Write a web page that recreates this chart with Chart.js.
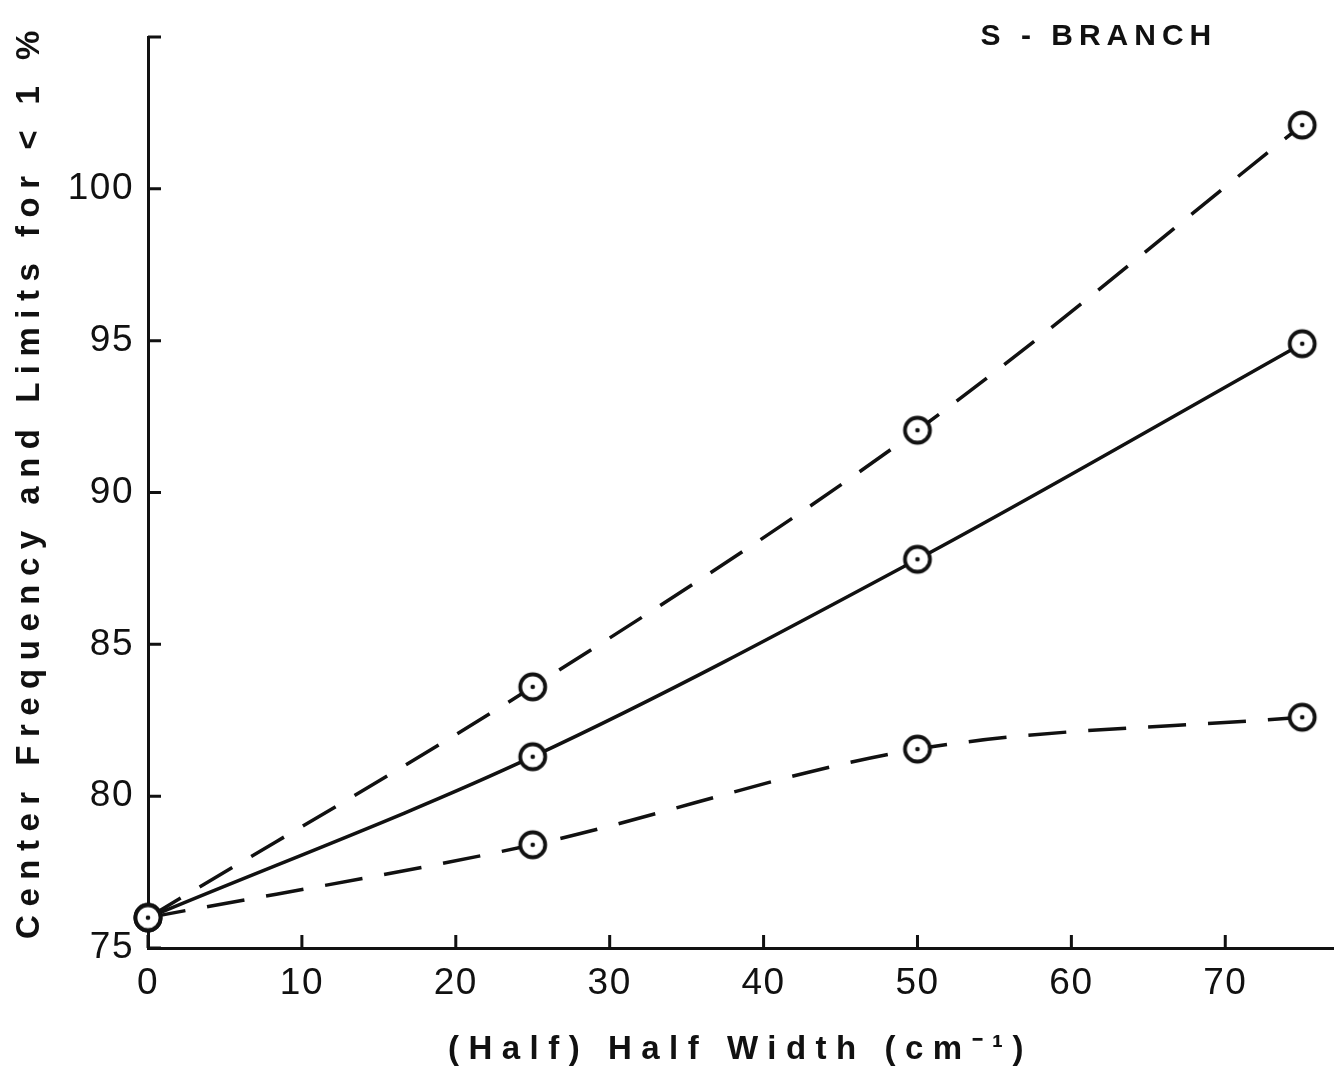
<!DOCTYPE html>
<html>
<head>
<meta charset="utf-8">
<script src="https://cdn.jsdelivr.net/npm/chart.js@4.4.0/dist/chart.umd.min.js"></script>
<style>
  html, body { margin: 0; padding: 0; background: #fff; }
  #c { display: block; }
</style>
</head>
<body>
<canvas id="c" width="1342" height="1077"></canvas>
<script>
// ---- data ----
const halfWidths = [0, 25, 50, 75];
const centerFreq = [76.0, 81.3, 87.8, 94.9];
const upperLimit = [76.0, 83.6, 92.05, 102.1];
const lowerLimit = [76.0, 78.4, 81.55, 82.6];
const xTickValues = [0, 10, 20, 30, 40, 50, 60, 70];
const yTickValues = [75, 80, 85, 90, 95, 100];
const yMarkOnly = [105];
const xTitle = '(Half) Half Width (cm\u207B\u00B9)';
const yTitle = 'Center Frequency and Limits for < 1 %';
const panelLabel = 'S - BRANCH';

const FAMILY = '"Liberation Sans", Arial, sans-serif';

// ---- marker: open circle with centre dot ----
function makeMarker() {
  const s = 34, c = document.createElement('canvas');
  c.width = s; c.height = s;
  const g = c.getContext('2d');
  g.beginPath(); g.arc(s/2, s/2, 12.5, 0, Math.PI*2);
  g.fillStyle = '#fff'; g.fill();
  g.lineWidth = 3.8; g.strokeStyle = '#111'; g.stroke();
  g.beginPath(); g.arc(s/2, s/2, 2.3, 0, Math.PI*2);
  g.fillStyle = '#111'; g.fill();
  return c;
}
const marker = makeMarker();

const toXY = ys => halfWidths.map((x, i) => ({x, y: ys[i]}));

const decorations = {
  id: 'decorations',
  beforeDraw(chart) { chart.ctx.letterSpacing = '1.5px'; },
  afterDraw(chart) {
    const ctx = chart.ctx, xs = chart.scales.x, ys = chart.scales.y;
    ctx.save();
    ctx.letterSpacing = '0px';
    ctx.strokeStyle = '#111'; ctx.lineWidth = 3;
    ctx.beginPath();
    xTickValues.forEach(v => { const p = xs.getPixelForValue(v); ctx.moveTo(p, xs.top); ctx.lineTo(p, xs.top - 13); });
    yTickValues.concat(yMarkOnly).forEach(v => { const p = ys.getPixelForValue(v); ctx.moveTo(ys.right, p); ctx.lineTo(ys.right + 13, p); });
    ctx.stroke();
    ctx.fillStyle = '#111';
    // panel label
    ctx.letterSpacing = '6px';
    ctx.font = 'bold 30px ' + FAMILY;
    ctx.textAlign = 'left'; ctx.textBaseline = 'middle';
    ctx.fillText(panelLabel, xs.getPixelForValue(54.1), ys.getPixelForValue(105));
    // x title
    ctx.letterSpacing = '9.5px';
    ctx.font = 'bold 33px ' + FAMILY;
    ctx.textAlign = 'center';
    const xc = (xs.left + xs.right) / 2;
    ctx.fillText(xTitle, xc, 1050);
    // y title
    ctx.letterSpacing = '8.5px';
    ctx.translate(30, (ys.top + ys.bottom) / 2 - 12);
    ctx.rotate(-Math.PI / 2);
    ctx.fillText(yTitle, 0, 0);
    ctx.restore();
    ctx.letterSpacing = '0px';
  }
};

const lineDs = (data, dash) => ({
  data, borderColor: '#111', borderWidth: 3.5, borderDash: dash,
  cubicInterpolationMode: 'monotone', fill: false, clip: false,
  pointStyle: marker, pointRadius: 15, pointHoverRadius: 15
});

new Chart(document.getElementById('c'), {
  type: 'line',
  data: {
    datasets: [
      lineDs(toXY(upperLimit), [38, 22]),
      lineDs(toXY(lowerLimit), [38, 22]),
      lineDs(toXY(centerFreq), [])
    ]
  },
  options: {
    responsive: false, animation: false,
    layout: { autoPadding: false, padding: { top: 37, right: 9, left: 0, bottom: 0 } },
    plugins: { legend: { display: false }, tooltip: { enabled: false } },
    scales: {
      x: {
        type: 'linear', min: 0, max: 77,
        afterBuildTicks: s => { s.ticks = xTickValues.map(v => ({value: v})); },
        afterFit: s => { s.height = 129; },
        grid: { display: false, drawTicks: false },
        border: { display: true, color: '#111', width: 3 },
        ticks: { color: '#111', padding: 14, maxRotation: 0, autoSkip: false,
                 font: { family: FAMILY, size: 37 } },
        title: { display: false }
      },
      y: {
        type: 'linear', min: 75, max: 105,
        afterBuildTicks: s => { s.ticks = yTickValues.map(v => ({value: v})); },
        afterFit: s => { s.width = 148; },
        grid: { display: false, drawTicks: false },
        border: { display: true, color: '#111', width: 3 },
        ticks: { color: '#111', padding: 14, autoSkip: false,
                 font: { family: FAMILY, size: 37 } },
        title: { display: false }
      }
    }
  },
  plugins: [decorations]
});
</script>
</body>
</html>
